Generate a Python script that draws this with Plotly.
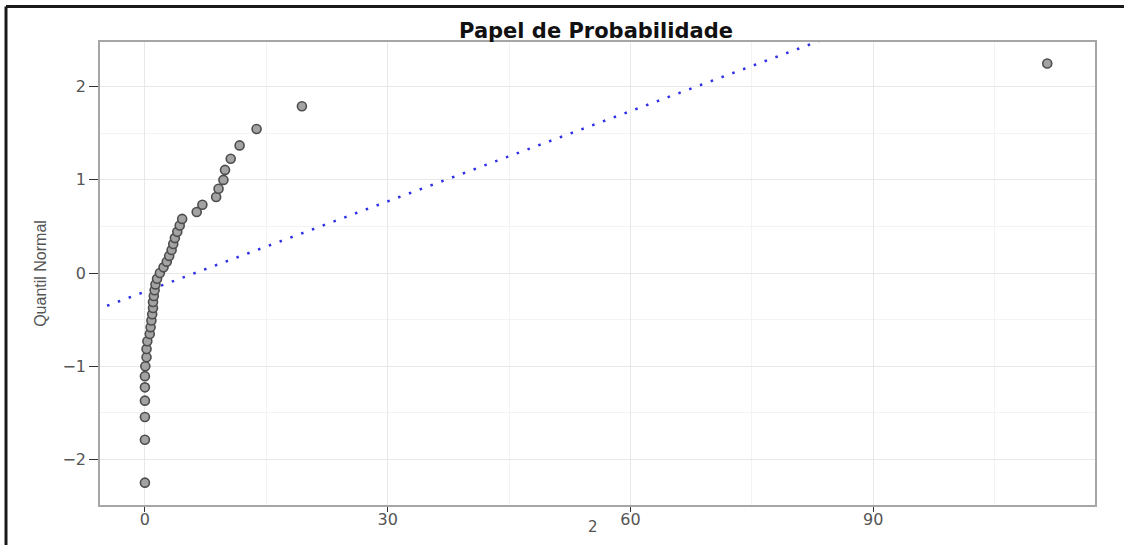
import plotly.graph_objects as go

# ---- data ----
amostra = [0.0, 0.0, 0.0, 0.0, 0.0, 0.0, 0.05, 0.2, 0.2, 0.3,
           0.6, 0.7, 0.8, 0.9, 1.0, 1.0, 1.1, 1.2, 1.3, 1.5,
           1.85, 2.3, 2.7, 3.0, 3.3, 3.5, 3.7, 4.0, 4.3, 4.6,
           6.4, 7.1, 8.8, 9.1, 9.7, 9.9, 10.6, 11.7, 13.8, 19.4,
           111.5]
quantil_normal = [-2.25, -1.79, -1.546, -1.37, -1.227, -1.107, -1.0, -0.904, -0.816, -0.733,
                  -0.655, -0.581, -0.51, -0.442, -0.375, -0.311, -0.247, -0.184, -0.122, -0.061,
                  0.0, 0.061, 0.122, 0.184, 0.247, 0.311, 0.375, 0.442, 0.51, 0.581,
                  0.655, 0.733, 0.816, 0.904, 1.0, 1.107, 1.227, 1.37, 1.546, 1.79,
                  2.25]
ref_intercept = -0.2
ref_slope = 0.0323
ref_x_span = [-10, 120]

x_ticks = [0, 30, 60, 90]
y_ticks = [-2, -1, 0, 1, 2]

title_text = "Papel de Probabilidade"
x_title = "2"
y_title = "Quantil Normal"

# ---- figure ----
ref_y = [ref_intercept + ref_slope * v for v in ref_x_span]

fig = go.Figure()
fig.add_trace(go.Scatter(
    x=ref_x_span, y=ref_y, mode="lines",
    line=dict(color="#2f2fe8", width=2.5, dash="2.5px,9px"),
    showlegend=False, hoverinfo="skip"))
fig.add_trace(go.Scatter(
    x=amostra, y=quantil_normal, mode="markers",
    marker=dict(symbol="circle", size=9, color="#a3a3a3",
                line=dict(color="#4d4d4d", width=1.6)),
    showlegend=False))

L, R, T, B = 100, 29, 42, 40
W, H = 1124, 545
pw, ph = W - L - R, H - T - B

fig.update_layout(
    width=W, height=H,
    margin=dict(l=L, r=R, t=T, b=B),
    paper_bgcolor="white", plot_bgcolor="white",
    title=dict(text="<b>" + title_text + "</b>", x=(596 - L) / pw, xref="paper",
               xanchor="center", y=1 - 31 / H, yanchor="middle",
               font=dict(family="DejaVu Sans", size=21, color="#111111")),
    xaxis=dict(range=[-5.55, 117.4], tickvals=x_ticks, automargin=False,
               showgrid=True, gridcolor="#e8e8e8", gridwidth=1,
               minor=dict(dtick=15, tick0=15, showgrid=True, gridcolor="#f3f3f3", gridwidth=1, ticks=""),
               zeroline=False, showline=True, linecolor="#a6a6a6", linewidth=1.6, mirror=True,
               ticks="outside", ticklen=5, tickcolor="#333333", tickwidth=1.2,
               ticklabelstandoff=-6,
               tickfont=dict(family="DejaVu Sans", size=16, color="#555555")),
    yaxis=dict(range=[-2.49, 2.48], tickvals=y_ticks, automargin=False,
               showgrid=True, gridcolor="#e8e8e8", gridwidth=1,
               minor=dict(dtick=0.5, tick0=0.5, showgrid=True, gridcolor="#f3f3f3", gridwidth=1, ticks=""),
               zeroline=False, showline=True, linecolor="#a6a6a6", linewidth=1.6, mirror=True,
               ticks="outside", ticklen=9, tickcolor="#333333", tickwidth=1.2,
               tickfont=dict(family="DejaVu Sans", size=16, color="#555555"),
               title=dict(text=y_title, standoff=12,
                          font=dict(family="Liberation Sans", size=16, color="#555555"))),
)

# x-axis title placed just under the tick labels, as in the reference
fig.add_annotation(text=x_title, xref="paper", yref="paper",
                   x=(593 - L) / pw, y=-(527 - (H - B)) / ph,
                   xanchor="center", yanchor="middle", showarrow=False,
                   font=dict(family="DejaVu Sans", size=15, color="#555555"))

# outer black frame (top and left edges visible in reference)
fx0 = (6 - L) / pw
fy_top = (H - B - 6.5) / ph
fig.add_shape(type="line", xref="paper", yref="paper",
              x0=fx0, x1=(W + 5 - L) / pw, y0=fy_top, y1=fy_top,
              line=dict(color="#1a1a1a", width=3))
fig.add_shape(type="line", xref="paper", yref="paper",
              x0=fx0, x1=fx0, y0=fy_top, y1=-(B + 5) / ph,
              line=dict(color="#1a1a1a", width=3))

fig.write_html("out.html", config={"displayModeBar": False},
               post_script="document.body.style.margin='0';document.body.style.padding='0';")
